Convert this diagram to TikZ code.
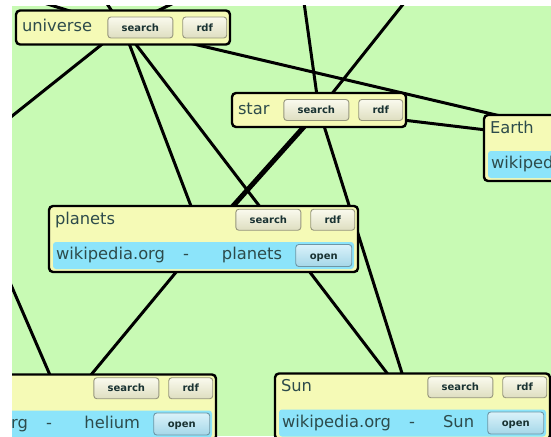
\documentclass[tikz,border=0pt]{standalone}
\usepackage{fontspec}
\setmainfont{DejaVu Sans}
\usepackage{tikz}
\usetikzlibrary{positioning}

\definecolor{bggreen}{RGB}{200,250,180}
\definecolor{cardyellow}{RGB}{245,250,182}
\definecolor{barblue}{RGB}{140,228,250}
\definecolor{btntop}{RGB}{250,250,238}
\definecolor{btnbot}{RGB}{222,222,192}
\definecolor{btnedge}{RGB}{150,150,125}
\definecolor{obtntop}{RGB}{218,242,250}
\definecolor{obtnbot}{RGB}{165,215,232}
\definecolor{obtnedge}{RGB}{110,150,165}
\definecolor{headtext}{RGB}{45,75,75}
\definecolor{btntext}{RGB}{25,50,50}

\newcommand\headfont{\fontsize{16.3}{18}\selectfont}
\newcommand\btnfont{\fontsize{10}{12}\selectfont\bfseries}

\pgfdeclarelayer{edges}
\pgfsetlayers{edges,main}

\begin{document}
\begin{tikzpicture}[x=1pt, y=-1pt,
    card/.style={draw=black, line width=2.4pt, rounded corners=4pt, fill=cardyellow, inner sep=0pt},
    linkbar/.style={fill=barblue, rounded corners=3pt, minimum height=27pt, inner sep=0pt},
    cardtext/.style={text=headtext, font=\headfont, inner sep=0pt, text height=12pt, text depth=3.5pt, anchor=west},
    btn/.style={draw=btnedge, line width=0.9pt, rounded corners=3pt, top color=btntop, bottom color=btnbot,
                text=btntext, font=\btnfont, minimum height=21pt, inner sep=0pt, text height=7.4pt, text depth=0pt},
    obtn/.style={btn, draw=obtnedge, top color=obtntop, bottom color=obtnbot, minimum width=56pt, minimum height=22pt},
    wire/.style={line width=3pt, black},
    fat wire/.style={line width=5pt, black}]

\useasboundingbox (0,0) rectangle (551,436);

% ends of links that leave the view
\coordinate (far-left) at (-43,160);
\coordinate (up-a) at (-6,-12.5);
\coordinate (up-b) at (96,-12.5);
\coordinate (up-c) at (206,-12.5);
\coordinate (up-h) at (302,-12);
\coordinate (up-i) at (416,-12);

\begin{scope}
\clip (12,6) rectangle (551,436);

\foreach \n/\cx/\cy/\w in {universe/123/27.5/214, star/319/110/174}
{
    \node [card, minimum width=\w, minimum height=34] (\n) at (\cx,\cy) {};
    \node [cardtext] (\n-title) at ([xshift=7pt]\n.west) {\n};
    \node [btn, minimum width=44pt, anchor=east] (\n-rdf) at ([xshift=-4pt]\n.east) {rdf};
    \node [btn, minimum width=65pt, anchor=east] (\n-search) at ([xshift=-9pt]\n-rdf.west) {search};
}

\foreach \n/\cx/\cy/\w/\title/\page in {planets/203.5/239/309/planets/planets, sun/412.5/406.5/275/Sun/Sun, helium/64/407.5/304/{}/helium}
{
    \node [card, minimum width=\w, minimum height=66] (\n) at (\cx,\cy) {};
    \node [cardtext] (\n-title) at ([xshift=7pt, yshift=-15pt]\n.north west) {\title};
    \node [btn, minimum width=44pt, anchor=north east] (\n-rdf) at ([xshift=-4pt, yshift=-4pt]\n.north east) {rdf};
    \node [btn, minimum width=65pt, anchor=north east] (\n-search) at ([xshift=-9pt]\n-rdf.north west) {search};
    \node [linkbar, minimum width=\w-8, anchor=south west] (\n-bar) at ([xshift=5pt, yshift=4pt]\n.south west) {};
    \node [obtn, anchor=east] (\n-open) at ([xshift=-2pt]\n-bar.east) {open};
    \node [cardtext] (\n-site) at ([xshift=3pt]\n-bar.west) {wikipedia.org};
    \node [cardtext] (\n-dash) at ([xshift=130pt]\n-bar.west) {-};
    \node [cardtext, anchor=east] (\n-page) at ([xshift=-13pt]\n-open.west) {\page};
}

\node [card, minimum width=306, minimum height=66] (earth) at (637,148) {};
\node [cardtext] (earth-title) at ([xshift=7pt, yshift=-15pt]earth.north west) {Earth};
\node [linkbar, minimum width=298, anchor=south west] (earth-bar) at ([xshift=5pt, yshift=4pt]earth.south west) {};
\node [cardtext] (earth-site) at ([xshift=3pt]earth-bar.west) {wikipedia.org};
\end{scope}

\begin{pgfonlayer}{edges}
\fill [white] (0,0) rectangle (551,436);
\begin{scope}
\clip (12,6) rectangle (551,436);
\fill [bggreen] (12,6) rectangle (551,436);

\foreach \a/\b in {universe/planets, universe/sun, universe/earth, universe/far-left,
                   universe/up-a, universe/up-b, universe/up-c,
                   star/up-h, star/up-i, star/earth, star/sun,
                   planets/helium, helium/far-left}
    \draw [wire] (\a.center) -- (\b.center);

\draw [fat wire] (star.center) -- (planets.center);
\end{scope}
\end{pgfonlayer}

\end{tikzpicture}
\end{document}
